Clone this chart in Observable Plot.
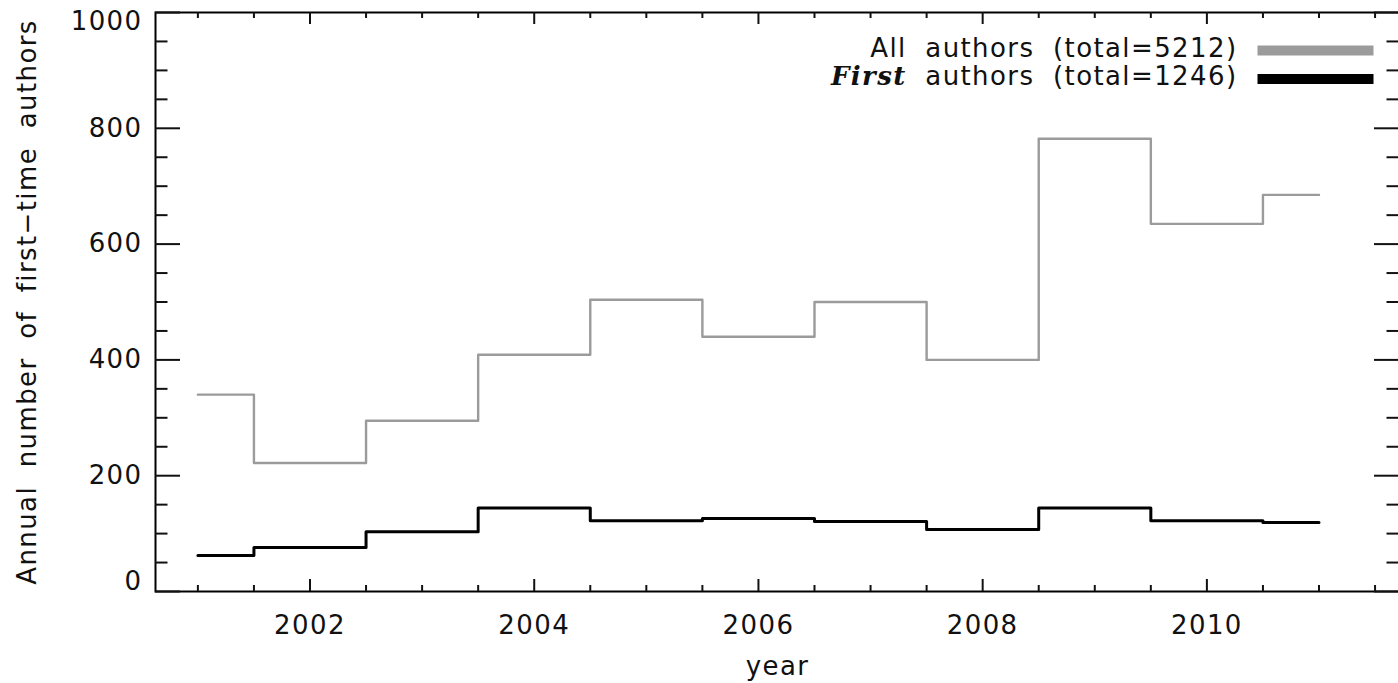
<!DOCTYPE html>
<html>
<head>
<meta charset="utf-8">
<script src="https://cdn.jsdelivr.net/npm/d3@7"></script>
<script src="https://cdn.jsdelivr.net/npm/@observablehq/plot@0.6"></script>
<style>
  html, body { margin: 0; padding: 0; background: white; }
</style>
</head>
<body>
<div id="chart"></div>
<script>
// ---- data ----
const years = [2001, 2002, 2003, 2004, 2005, 2006, 2007, 2008, 2009, 2010, 2011];
const allAuthors = [340, 222, 295, 409, 504, 440, 500, 400, 782, 635, 685];
const firstAuthors = [62, 76, 103, 144, 122, 126, 121, 107, 144, 122, 119];
const seriesNames = ["All authors", "First authors"];
const seriesTotals = [5212, 1246];
const xTickLabels = [2002, 2004, 2006, 2008, 2010];
const yTickLabels = [0, 200, 400, 600, 800, 1000];
const xTitle = "year";
const yTitle = "Annual number of first\u2212time authors";

// ---- layout ----
const W = 1398, Hh = 683;
const mT = 12, mB = 92, mL = 155, mR = -1;
const plotW = W - mL - mR, plotH = Hh - mT - mB;
const grayC = "#9b9b9b";

const allRows = years.map((y, i) => ({year: y, v: allAuthors[i]}));
const firstRows = years.map((y, i) => ({year: y, v: firstAuthors[i]}));

const xMajor = xTickLabels;
const xMinor = d3.range(2001, 2011.51, 0.5).filter(d => !xMajor.includes(d));
const yMajor = yTickLabels;
const yMinor = d3.range(0, 1001, 50).filter(d => !yMajor.includes(d));
const yMid = yTickLabels.filter(d => d !== 0 && d !== 1000);

const barSymbol = {draw(ctx) { ctx.rect(-58, -5, 116, 10); }};

const legendText = seriesNames.map((n, i) => `${n} (total=${seriesTotals[i]})`);

const chart = Plot.plot({
  width: W, height: Hh,
  marginTop: mT, marginBottom: mB, marginLeft: mL, marginRight: mR,
  x: {domain: [2000.622, 2011.718]},
  y: {domain: [0, 1000]},
  style: {
    fontFamily: "DejaVu Sans", fontSize: "26px", letterSpacing: "1.4px",
    wordSpacing: "9px", color: "#111", background: "white"
  },
  marks: [
    // data
    Plot.line(allRows, {x: "year", y: "v", curve: "step", stroke: grayC, strokeWidth: 2.4}),
    Plot.line(firstRows, {x: "year", y: "v", curve: "step", stroke: "black", strokeWidth: 3}),
    // frame
    Plot.frame({stroke: "black", strokeWidth: 2}),
    // bottom ticks
    Plot.tickX(xMajor, {x: d => d, insetTop: plotH - 12, strokeWidth: 2}),
    Plot.tickX(xMinor, {x: d => d, insetTop: plotH - 6, strokeWidth: 2}),
    // top ticks
    Plot.tickX(xMajor, {x: d => d, insetBottom: plotH - 12, strokeWidth: 2}),
    Plot.tickX(xMinor, {x: d => d, insetBottom: plotH - 6, strokeWidth: 2}),
    // left ticks
    Plot.tickY(yMajor, {y: d => d, insetRight: plotW - 25, strokeWidth: 2}),
    Plot.tickY(yMinor, {y: d => d, insetRight: plotW - 12.5, strokeWidth: 2}),
    // right ticks
    Plot.tickY(yMajor, {y: d => d, insetLeft: plotW - 25, strokeWidth: 2}),
    Plot.tickY(yMinor, {y: d => d, insetLeft: plotW - 12.5, strokeWidth: 2}),
    // tick labels
    Plot.axisX(xTickLabels, {anchor: "bottom", tickSize: 0, tickPadding: 24, tickFormat: "d", label: null}),
    Plot.axisY(yMid, {anchor: "left", tickSize: 0, tickPadding: 13, tickFormat: "d", label: null}),
    Plot.text([1000], {y: d => d, text: d => String(d), frameAnchor: "left", textAnchor: "end", dx: -13, dy: 9}),
    Plot.text([0], {y: d => d, text: d => String(d), frameAnchor: "left", textAnchor: "end", dx: -13, dy: -10}),
    // axis titles
    Plot.text([xTitle], {text: d => d, frameAnchor: "bottom", textAnchor: "middle", lineAnchor: "bottom", dy: 83}),
    Plot.text([yTitle], {text: d => d, frameAnchor: "left", textAnchor: "middle", lineAnchor: "bottom", rotate: -90, dx: -120}),
    // legend
    Plot.text([legendText[0]], {text: d => d, frameAnchor: "top-right", textAnchor: "end", lineAnchor: "bottom", dx: -162, dy: 44}),
    Plot.text([legendText[1]], {text: d => d, frameAnchor: "top-right", textAnchor: "end", lineAnchor: "bottom", dx: -162, dy: 72}),
    Plot.dot([0], {frameAnchor: "top-right", dx: -84, dy: 38, symbol: barSymbol, fill: grayC, stroke: "none"}),
    Plot.dot([0], {frameAnchor: "top-right", dx: -84, dy: 66.5, symbol: barSymbol, fill: "black", stroke: "none"})
  ]
});

document.getElementById("chart").appendChild(chart);

// style the word "First" in the legend as bold italic serif
const ns = "http://www.w3.org/2000/svg";
d3.select(chart).selectAll("text").each(function() {
  const t = this.textContent;
  if (t.startsWith("First ")) {
    this.textContent = "";
    const a = document.createElementNS(ns, "tspan");
    a.setAttribute("font-family", "DejaVu Serif");
    a.setAttribute("font-style", "italic");
    a.setAttribute("font-weight", "bold");
    a.textContent = "First";
    const b = document.createElementNS(ns, "tspan");
    b.textContent = t.slice(5);
    this.appendChild(a);
    this.appendChild(b);
  }
});
</script>
</body>
</html>
